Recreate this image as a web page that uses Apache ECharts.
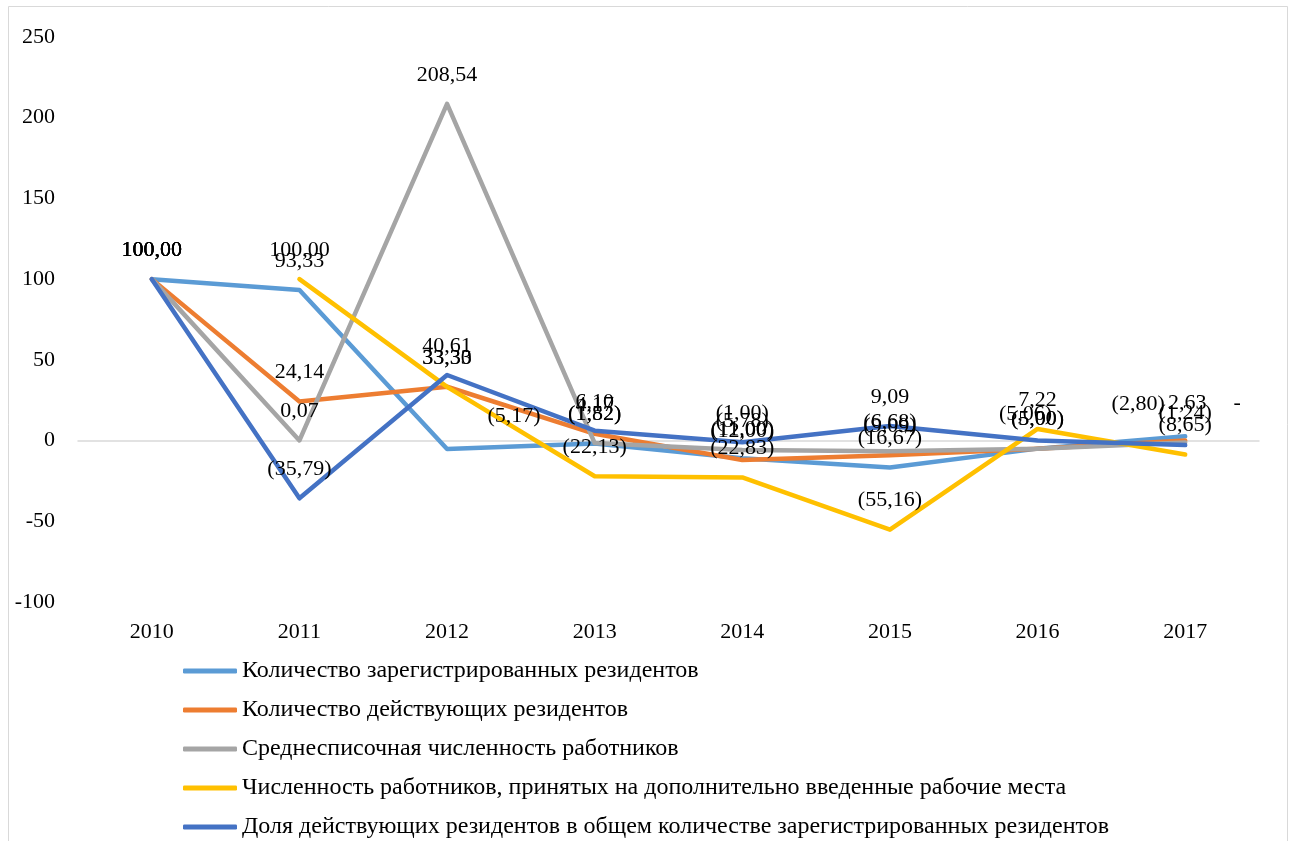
<!DOCTYPE html>
<html>
<head>
<meta charset="utf-8">
<script src="https://cdn.jsdelivr.net/npm/echarts@6/dist/echarts.min.js"></script>
<style>html,body{margin:0;padding:0;background:#fff}#c{width:1289px;height:841px}</style>
</head>
<body>
<div id="c"></div>
<script>
const categories = ['2010', '2011', '2012', '2013', '2014', '2015', '2016', '2017'];
const seriesNames = [
  'Количество зарегистрированных резидентов',
  'Количество действующих резидентов',
  'Среднесписочная численность работников',
  'Численность работников, принятых на дополнительно введенные рабочие места',
  'Доля действующих резидентов в общем количестве зарегистрированных резидентов'
];
const registered = [100.00, 93.33, -5.17, -1.82, -11.00, -16.67, -5.00, 2.63];
const active = [100.00, 24.14, 33.33, 4.17, -12.00, -9.09, -5.00, 0];
const staff = [100.00, 0.07, 208.54, -1.52, -5.78, -6.68, -5.06, -1.24];
const newJobs = [null, 100.00, 33.30, -22.13, -22.83, -55.16, 7.22, -8.65];
const activeShare = [100.00, -35.79, 40.61, 6.10, -1.00, 9.09, 0, -2.80];
const yTicks = { min: -100, max: 250, interval: 50 };

const seriesValues = [registered, active, staff, newJobs, activeShare];
const colors = ['#5B9BD5', '#ED7D31', '#A5A5A5', '#FFC000', '#4472C4'];
// manual label shifts (series index -> category index -> [dx, dy])
const labelShift = {
  0: { 2: [67, -4], 7: [2, -4] },
  2: { 6: [-12, -6] },
  1: { 7: [52, -8] },
  4: { 7: [-47, -12] }
};

const FONT = 'Liberation Serif';
function fmt(v) {
  if (v === null || v === undefined) return '';
  if (v === 0) return '-';
  const s = Math.abs(v).toFixed(2).replace('.', ',');
  return v < 0 ? '(' + s + ')' : s;
}

const series = seriesValues.map((vals, si) => ({
  name: seriesNames[si],
  type: 'line',
  xAxisIndex: 0,
  symbol: 'circle',
  symbolSize: 0,
  showSymbol: true,
  connectNulls: false,
  lineStyle: { width: 4.5, color: colors[si], cap: 'round', join: 'round' },
  itemStyle: { color: colors[si] },
  label: {
    show: true,
    position: 'top',
    distance: 18,
    fontFamily: FONT,
    fontSize: 22,
    color: '#000',
    formatter: p => fmt(p.value)
  },
  labelLayout: function (p) {
    const sh = labelShift[si] && labelShift[si][p.dataIndex];
    if (!sh) return { hideOverlap: false };
    const r = p.labelRect;
    return { hideOverlap: false, x: r.x + r.width / 2 + sh[0], y: r.y + r.height / 2 + sh[1], align: 'center', verticalAlign: 'middle' };
  },
  emphasis: { disabled: true },
  data: vals
}));

const chart = echarts.init(document.getElementById('c'), null, { renderer: 'canvas' });
chart.setOption({
  animation: false,
  backgroundColor: '#fff',
  graphic: [{
    type: 'rect', shape: { x: 8.5, y: 6.5, width: 1279, height: 840 },
    style: { fill: 'none', stroke: '#d9d9d9', lineWidth: 1 }, silent: true, z: -10
  }],
  grid: { left: 78, right: 30, top: 37, bottom: 239, containLabel: false },
  xAxis: [{
    type: 'category',
    data: categories,
    position: 'bottom',
    axisLine: { show: false, onZero: false },
    axisTick: { show: false },
    axisLabel: { fontFamily: FONT, fontSize: 22, color: '#000', margin: 19 }
  }, {
    type: 'category',
    data: categories,
    position: 'top',
    axisLine: { show: true, onZero: true, lineStyle: { color: '#d9d9d9', width: 1.5 } },
    axisTick: { show: false },
    axisLabel: { show: false }
  }],
  yAxis: {
    type: 'value',
    min: yTicks.min, max: yTicks.max, interval: yTicks.interval,
    splitLine: { show: false },
    axisLine: { show: false },
    axisTick: { show: false },
    axisLabel: { fontFamily: FONT, fontSize: 22, color: '#000', margin: 23 }
  },
  legend: {
    orient: 'vertical',
    left: 183,
    top: 659,
    height: 300,
    padding: 0,
    icon: 'roundRect',
    itemWidth: 54,
    itemHeight: 5,
    itemGap: 15,
    textStyle: { fontFamily: FONT, fontSize: 24, color: '#000' },
    data: seriesNames
  },
  series: series
});
</script>
</body>
</html>
